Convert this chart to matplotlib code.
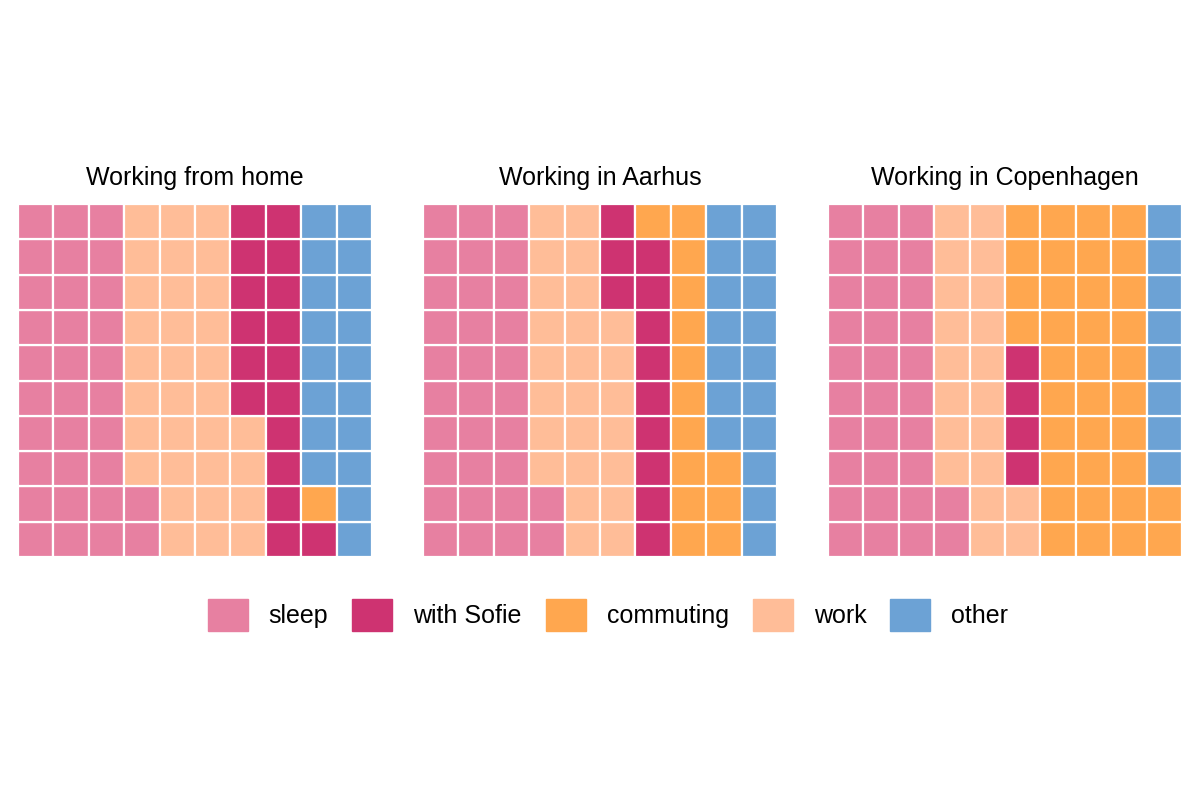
import numpy as np
import matplotlib
matplotlib.use("Agg")
import matplotlib.pyplot as plt
from matplotlib.patches import Rectangle, Patch

plt.rcParams['font.family'] = ['Liberation Sans', 'DejaVu Sans']

# hours out of 100 squares, in fill order
categories = ['sleep', 'work', 'with Sofie', 'commuting', 'other']
legend_order = ['sleep', 'with Sofie', 'commuting', 'work', 'other']
colors = {'sleep': '#E780A1', 'with Sofie': '#CE3371', 'commuting': '#FFA74F',
          'work': '#FFBD98', 'other': '#6CA2D5'}

titles = ['Working from home', 'Working in Aarhus', 'Working in Copenhagen']
home = [32, 32, 17, 1, 18]
aarhus = [32, 25, 12, 14, 17]
copenhagen = [32, 20, 4, 36, 8]
panels = [home, aarhus, copenhagen]

fig = plt.figure(figsize=(12, 8), dpi=100)
lefts = [18, 423, 828]
for left, title, counts in zip(lefts, titles, panels):
    ax = fig.add_axes([left / 1200, 1 - 557 / 800, 354 / 1200, 353 / 800])
    labels = np.repeat(categories, counts)
    for k, lab in enumerate(labels):
        col, row = divmod(k, 10)
        ax.add_patch(Rectangle((col, row), 1, 1, facecolor=colors[lab],
                               edgecolor='white', linewidth=1.6))
    ax.set_xlim(0, 10)
    ax.set_ylim(0, 10)
    ax.set_title(title, fontsize=18, pad=14)
    ax.axis('off')

handles = [Patch(facecolor=colors[c], edgecolor=colors[c], label=c) for c in legend_order]
fig.legend(handles=handles, loc='center', bbox_to_anchor=(608 / 1200, 1 - 615 / 800),
           ncol=5, frameon=False, fontsize=18, handlelength=1.6, handleheight=1.6,
           handletextpad=0.85, columnspacing=0.95)

fig.savefig('out.png', dpi=100, facecolor='white')
